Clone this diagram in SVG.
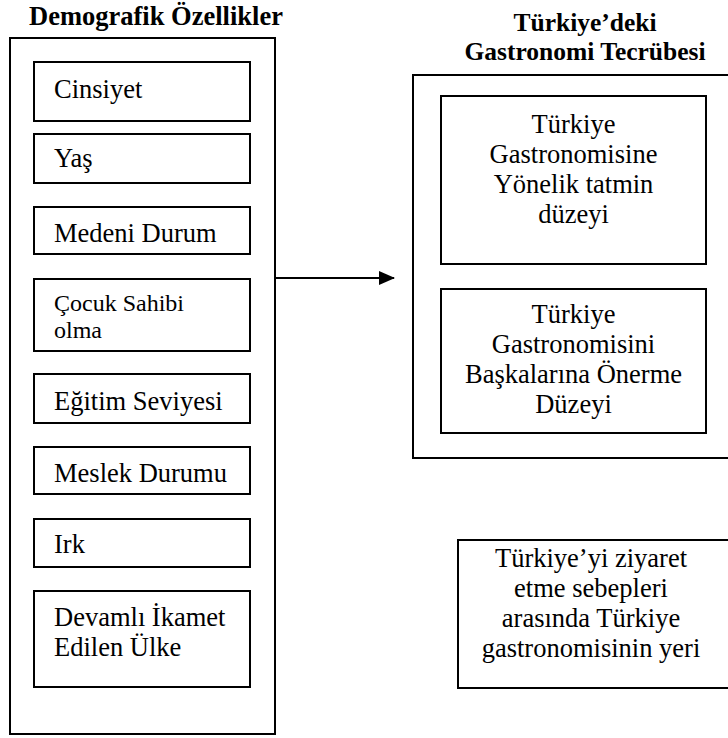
<svg xmlns="http://www.w3.org/2000/svg" width="728" height="738" viewBox="0 0 728 738">
<defs>
<style>
text{font-family:"Liberation Serif","Times New Roman",serif;fill:#000}
.lbl{font-size:26.5px}
.sm{font-size:24px}
.mid{text-anchor:middle}
.hd{font-size:26.5px;font-weight:bold;text-anchor:middle}
.hd2{font-size:25.5px}
.box{fill:#fff;stroke:#000;stroke-width:2}
.conn{stroke:#000;stroke-width:2;fill:none}
</style>
<marker id="ah" markerWidth="16" markerHeight="14" refX="15" refY="7" orient="auto" markerUnits="userSpaceOnUse">
<path d="M0,0 L16,7 L0,14 Z" fill="#000"/>
</marker>
</defs>
<rect width="728" height="738" fill="#fff"/>
<text class="hd" x="156" y="25">Demografik Özellikler</text>
<text class="hd hd2" x="585" y="31">Türkiye’deki</text>
<text class="hd hd2" x="585" y="60">Gastronomi Tecrübesi</text>
<g id="demografik">
<rect class="box" x="10" y="38" width="265" height="696"/>
</g>
<g id="cinsiyet"><rect class="box" x="34" y="62" width="216" height="59"/><text class="lbl" x="54" y="98">Cinsiyet</text></g>
<g id="yas"><rect class="box" x="34" y="134" width="216" height="49"/><text class="lbl" x="54" y="167">Yaş</text></g>
<g id="medeni"><rect class="box" x="34" y="207" width="216" height="47"/><text class="lbl" x="54" y="242">Medeni Durum</text></g>
<g id="cocuk"><rect class="box" x="34" y="279" width="216" height="72"/><text class="lbl sm" x="54" y="311">Çocuk Sahibi</text><text class="lbl sm" x="54" y="338">olma</text></g>
<g id="egitim"><rect class="box" x="34" y="374" width="216" height="49"/><text class="lbl" x="54" y="410">Eğitim Seviyesi</text></g>
<g id="meslek"><rect class="box" x="34" y="447" width="216" height="47"/><text class="lbl" x="54" y="482">Meslek Durumu</text></g>
<g id="irk"><rect class="box" x="34" y="519" width="216" height="48"/><text class="lbl" x="54" y="553">Irk</text></g>
<g id="ikamet"><rect class="box" x="34" y="591" width="216" height="96"/><text class="lbl" x="54" y="626">Devamlı İkamet</text><text class="lbl" x="54" y="656">Edilen Ülke</text></g>
<g id="gastronomi">
<rect class="box" x="413" y="75" width="320" height="383"/>
</g>
<g id="tatmin"><rect class="box" x="441" y="96" width="265" height="168"/>
<text class="lbl mid" x="573.5" y="133">Türkiye</text>
<text class="lbl mid" x="573.5" y="163">Gastronomisine</text>
<text class="lbl mid" x="573.5" y="193">Yönelik tatmin</text>
<text class="lbl mid" x="573.5" y="223">düzeyi</text></g>
<g id="onerme"><rect class="box" x="441" y="289" width="265" height="144"/>
<text class="lbl mid" x="573.5" y="323">Türkiye</text>
<text class="lbl mid" x="573.5" y="353">Gastronomisini</text>
<text class="lbl mid" x="573.5" y="383">Başkalarına Önerme</text>
<text class="lbl mid" x="573.5" y="413">Düzeyi</text></g>
<g id="ziyaret"><rect class="box" x="458" y="540" width="275" height="148"/>
<text class="lbl mid" x="591" y="567">Türkiye’yi ziyaret</text>
<text class="lbl mid" x="591" y="597">etme sebepleri</text>
<text class="lbl mid" x="591" y="627">arasında Türkiye</text>
<text class="lbl mid" x="591" y="657">gastronomisinin yeri</text>
</g>
<g id="connectors">
<line class="conn" x1="275" y1="278" x2="394" y2="278" marker-end="url(#ah)"/>
</g>
</svg>
